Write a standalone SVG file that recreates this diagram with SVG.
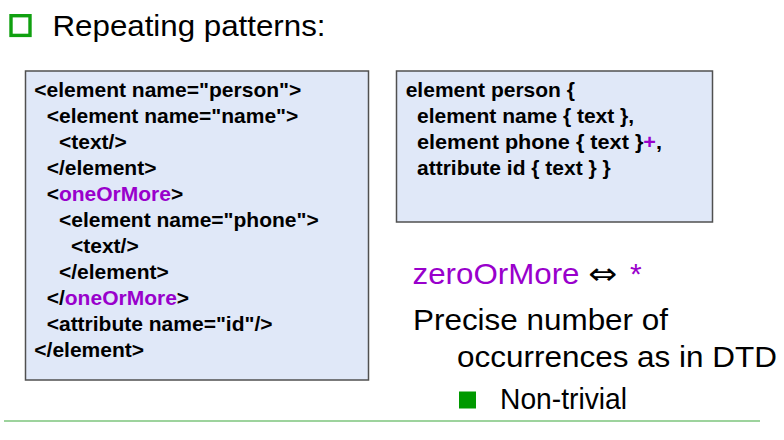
<svg xmlns="http://www.w3.org/2000/svg" width="784" height="440" viewBox="0 0 784 440">
<style>
.code{font-family:"Liberation Sans",Arial,sans-serif;font-weight:bold;font-size:21px;fill:#000}
.big{font-family:"Liberation Sans",Arial,sans-serif;font-size:30px;fill:#000}
.p{fill:#9900CC}
.box{fill:#E0E8F8;stroke:#505050;stroke-width:1.5}
</style>
<rect width="784" height="440" fill="#fff"/>
<g id="title">
<rect x="11" y="15.7" width="19" height="19.7" fill="none" stroke="#10A010" stroke-width="3.4"/>
<text class="big" x="52.5" y="36" font-size="28" textLength="273" lengthAdjust="spacingAndGlyphs">Repeating patterns:</text>
</g>
<g id="xml-box">
<rect class="box" x="25.5" y="71" width="343" height="309"/>
<text class="code" x="34.3" y="97" textLength="267" lengthAdjust="spacingAndGlyphs">&lt;element name="person"&gt;</text>
<text class="code" x="46.7" y="123">&lt;element name="name"&gt;</text>
<text class="code" x="59" y="149">&lt;text/&gt;</text>
<text class="code" x="46.7" y="175">&lt;/element&gt;</text>
<text class="code" x="46.7" y="201">&lt;<tspan class="p">oneOrMore</tspan>&gt;</text>
<text class="code" x="59" y="227">&lt;element name="phone"&gt;</text>
<text class="code" x="71" y="253">&lt;text/&gt;</text>
<text class="code" x="59" y="279">&lt;/element&gt;</text>
<text class="code" x="46.7" y="305">&lt;/<tspan class="p">oneOrMore</tspan>&gt;</text>
<text class="code" x="46.7" y="331">&lt;attribute name="id"/&gt;</text>
<text class="code" x="34.3" y="357">&lt;/element&gt;</text>
</g>
<g id="compact-box">
<rect class="box" x="396.5" y="71" width="316" height="151"/>
<text class="code" x="405.7" y="97">element person {</text>
<text class="code" x="417" y="123">element name { text },</text>
<text class="code" x="417" y="149" textLength="245" lengthAdjust="spacingAndGlyphs">element phone { text }<tspan class="p">+</tspan>,</text>
<text class="code" x="417" y="175">attribute id { text } }</text>
</g>
<g id="notes">
<text class="big p" x="412.5" y="284" textLength="167" lengthAdjust="spacingAndGlyphs">zeroOrMore</text>
<text x="588" y="284" font-family="'DejaVu Sans',sans-serif" font-size="30" fill="#000" textLength="29" lengthAdjust="spacingAndGlyphs">⇔</text>
<text class="big p" x="630" y="284">*</text>
<text class="big" x="413" y="330" textLength="255" lengthAdjust="spacingAndGlyphs">Precise number of</text>
<text class="big" x="457" y="367" textLength="320" lengthAdjust="spacingAndGlyphs">occurrences as in DTD</text>
<rect x="459" y="391.5" width="17" height="17" fill="#009900"/>
<text class="big" x="500" y="409" font-size="28.5" textLength="127" lengthAdjust="spacingAndGlyphs">Non-trivial</text>
</g>
<g id="connectors">
<line x1="4" y1="421" x2="760" y2="421" stroke="#7CC47C" stroke-width="1.5"/>
</g>
</svg>
